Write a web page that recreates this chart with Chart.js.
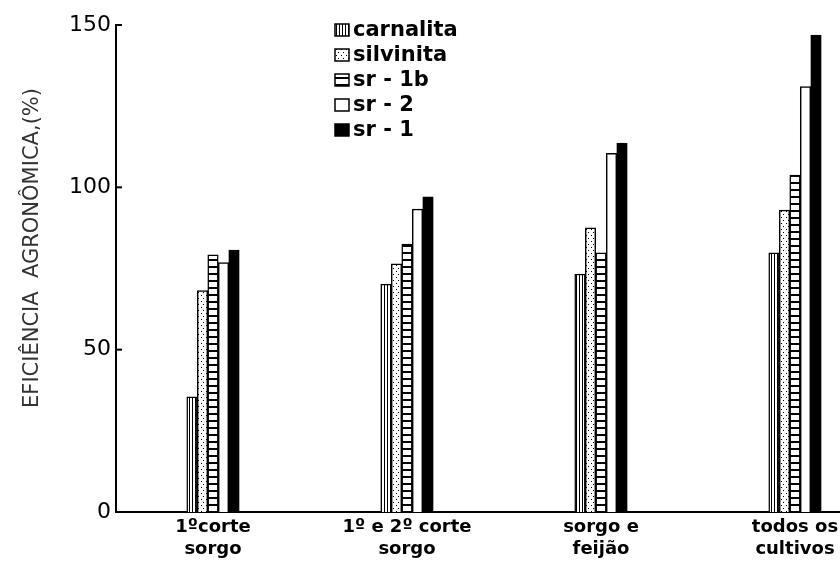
<!DOCTYPE html>
<html>
<head>
<meta charset="utf-8">
<script src="https://cdn.jsdelivr.net/npm/chart.js@4.4.1/dist/chart.umd.min.js"></script>
<style>
  html, body { margin: 0; padding: 0; background: #fff; overflow: hidden; }
  #wrap { width: 840px; height: 567px; overflow: hidden; }
</style>
</head>
<body>
<div id="wrap"><canvas id="canvas" width="900" height="567"></canvas></div>
<script>
// data
var categories = [['1ºcorte', 'sorgo'], ['1º e 2º corte', 'sorgo'], ['sorgo e', 'feijão'], ['todos os', 'cultivos']];
var carnalita = [35.5, 70.2, 73.3, 79.8];
var silvinita = [68.2, 76.4, 87.5, 93.0];
var sr1b = [79.2, 82.5, 79.8, 103.8];
var sr2 = [76.8, 93.3, 110.5, 131.0];
var sr1 = [80.7, 97.1, 113.6, 146.9];
var yTicks = [0, 50, 100, 150];
var yTitle = 'EFICIÊNCIA  AGRONÔMICA,(%)';

var ctx = document.getElementById('canvas').getContext('2d');

// little hatch patterns like the printed figure
function makePattern(w, h, draw) {
  var c = document.createElement('canvas');
  c.width = w; c.height = h;
  var g = c.getContext('2d');
  g.fillStyle = '#fff';
  g.fillRect(0, 0, w, h);
  g.fillStyle = '#000';
  draw(g);
  return ctx.createPattern(c, 'repeat');
}
var vertLines = makePattern(3, 4, function(g) { g.fillRect(0, 0, 1, 4); });
var dots = makePattern(5, 6, function(g) { g.fillRect(1, 1, 1, 1); g.fillRect(3, 4, 1, 1); });
var ladder = makePattern(4, 7, function(g) { g.fillRect(0, 0, 4, 2); });

// short ticks pointing into the plot + the rotated axis title
var yAxisExtras = {
  id: 'yAxisExtras',
  afterDraw: function(chart) {
    var y = chart.scales.y, c = chart.ctx;
    c.save();
    c.strokeStyle = '#000';
    c.lineWidth = 2;
    y.ticks.forEach(function(t) {
      var py = y.getPixelForValue(t.value);
      c.beginPath();
      c.moveTo(y.right, py);
      c.lineTo(y.right + 6, py);
      c.stroke();
    });
    c.translate(33, 248);
    c.rotate(-Math.PI / 2);
    c.font = '21px "DejaVu Sans"';
    c.fillStyle = '#333';
    c.textAlign = 'center';
    c.textBaseline = 'middle';
    c.fillText(yTitle, 0, 0);
    c.restore();
  }
};

// stacked legend inside the plot
var boxLegend = {
  id: 'boxLegend',
  afterDraw: function(chart) {
    var c = chart.ctx;
    c.save();
    c.font = 'bold 21px "DejaVu Sans"';
    c.textBaseline = 'middle';
    chart.data.datasets.forEach(function(ds, i) {
      var y = 30 + i * 25;
      c.fillStyle = ds.backgroundColor;
      c.fillRect(335, y - 6, 14, 12);
      c.strokeStyle = '#000';
      c.lineWidth = 1.5;
      c.strokeRect(335, y - 6, 14, 12);
      c.fillStyle = '#000';
      c.fillText(ds.label, 353, y + 1);
    });
    c.restore();
  }
};

function bar(label, data, fill) {
  return {
    label: label,
    data: data,
    backgroundColor: fill,
    borderColor: '#000',
    borderWidth: 1.5,
    barThickness: 10.5
  };
}

var myChart = new Chart(ctx, {
  type: 'bar',
  data: {
    labels: categories,
    datasets: [
      bar('carnalita', carnalita, vertLines),
      bar('silvinita', silvinita, dots),
      bar('sr - 1b', sr1b, ladder),
      bar('sr - 2', sr2, '#fff'),
      bar('sr - 1', sr1, '#000')
    ]
  },
  options: {
    responsive: false,
    animation: false,
    layout: { padding: { left: 14, top: 25, right: 8, bottom: 8 } },
    plugins: {
      legend: { display: false },
      tooltip: { enabled: false }
    },
    scales: {
      x: {
        grid: { display: false, drawTicks: false },
        border: { color: '#000', width: 2 },
        ticks: {
          color: '#000',
          font: { family: 'DejaVu Sans', size: 18, weight: 'bold', lineHeight: 1.25 },
          padding: 4,
          maxRotation: 0,
          autoSkip: false
        },
        afterFit: function(s) { s.height = 47; }
      },
      y: {
        min: 0,
        max: 150,
        afterBuildTicks: function(s) {
          s.ticks = yTicks.map(function(v) { return { value: v }; });
        },
        grid: { display: false, drawTicks: false },
        border: { color: '#000', width: 2 },
        ticks: {
          color: '#000',
          font: { family: 'DejaVu Sans', size: 22 },
          padding: 5
        },
        afterFit: function(s) { s.width = 102; }
      }
    }
  },
  plugins: [yAxisExtras, boxLegend]
});
</script>
</body>
</html>
